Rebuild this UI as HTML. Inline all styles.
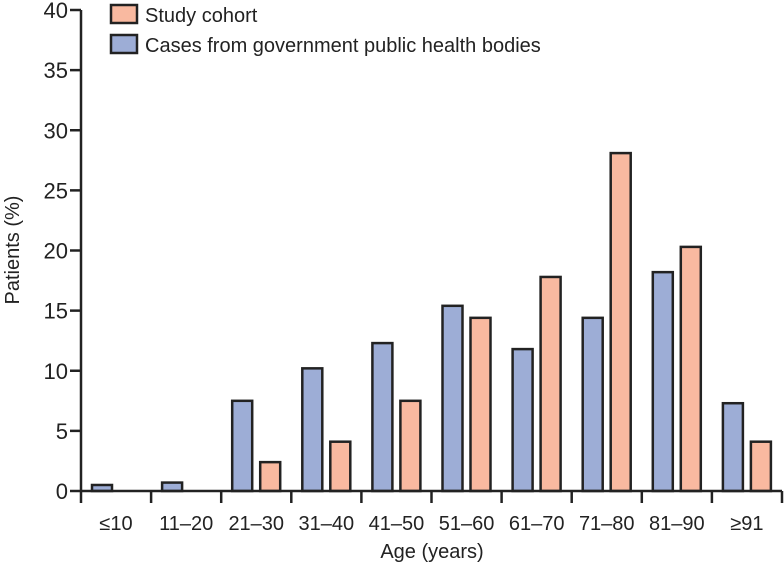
<!DOCTYPE html>
<html><head><meta charset="utf-8"><style>
body{margin:0;background:#fff}
svg text{font-family:"Liberation Sans",sans-serif;fill:#222}
</style></head><body>
<svg id="chart" width="784" height="574">
<g id="plot"></g>
</svg>
<script>
const categories=["≤10","11–20","21–30","31–40","41–50","51–60","61–70","71–80","81–90","≥91"];
const govValues=[0.5,0.7,7.5,10.2,12.3,15.4,11.8,14.4,18.2,7.3];
const cohortValues=[0,0,2.4,4.1,7.5,14.4,17.8,28.1,20.3,4.1];
const yTicks=[0,5,10,15,20,25,30,35,40];
const NS="http://www.w3.org/2000/svg";
const g=document.getElementById('plot');
const x0=81,x1=782,y0=491,yTop=10,yMax=40;
const bw=(x1-x0)/categories.length;
function y(v){return y0-(v/yMax)*(y0-yTop);}
function mk(t,a){const e=document.createElementNS(NS,t);for(const k in a)e.setAttribute(k,a[k]);g.appendChild(e);return e;}
categories.forEach((c,i)=>{
  const cx=x0+i*bw;
  if(govValues[i]>0){
    const r=mk('rect',{x:cx+11,y:y(govValues[i]),width:20,height:y0-y(govValues[i]),fill:'#9dadd6',stroke:'#222','stroke-width':2.5});
    
    
  }
  if(cohortValues[i]>0){
    const r=mk('rect',{x:cx+39,y:y(cohortValues[i]),width:20,height:y0-y(cohortValues[i]),fill:'#f9b9a0',stroke:'#222','stroke-width':2.5});
    
    
  }
  const t=mk('text',{x:cx+bw/2,y:530,'text-anchor':'middle','font-size':20});
  t.textContent=c;
  
  
});
for(let i=0;i<=categories.length;i++){
  const tx=x0+i*bw;
  mk('line',{x1:tx,x2:tx,y1:y0,y2:y0+12,stroke:'#222','stroke-width':2.5});
}
yTicks.forEach(v=>{
  mk('line',{x1:70,x2:x0,y1:y(v),y2:y(v),stroke:'#222','stroke-width':2.5});
  const t=mk('text',{x:68,y:y(v)+8,'text-anchor':'end','font-size':22});
  t.textContent=v;
  
  
});
const ax=mk('line',{x1:x0,x2:x0,y1:yTop,y2:y0+1,stroke:'#222','stroke-width':2.5});


const bx=mk('line',{x1:x0,x2:x1,y1:y0,y2:y0,stroke:'#222','stroke-width':2.5});


const xt=mk('text',{x:432,y:558,'text-anchor':'middle','font-size':20});
xt.textContent='Age (years)';


const yt=mk('text',{x:0,y:0,'text-anchor':'middle','font-size':20,transform:'translate(19,250) rotate(-90)'});
yt.textContent='Patients (%)';


const l1=mk('rect',{x:111,y:5,width:26,height:18,fill:'#f9b9a0',stroke:'#222','stroke-width':2.5});


const lt1=mk('text',{x:145,y:22,'font-size':20});
lt1.textContent='Study cohort';


const l2=mk('rect',{x:111,y:35,width:26,height:18,fill:'#9dadd6',stroke:'#222','stroke-width':2.5});


const lt2=mk('text',{x:145,y:52,'font-size':20});
lt2.textContent='Cases from government public health bodies';


</script>
</body></html>
